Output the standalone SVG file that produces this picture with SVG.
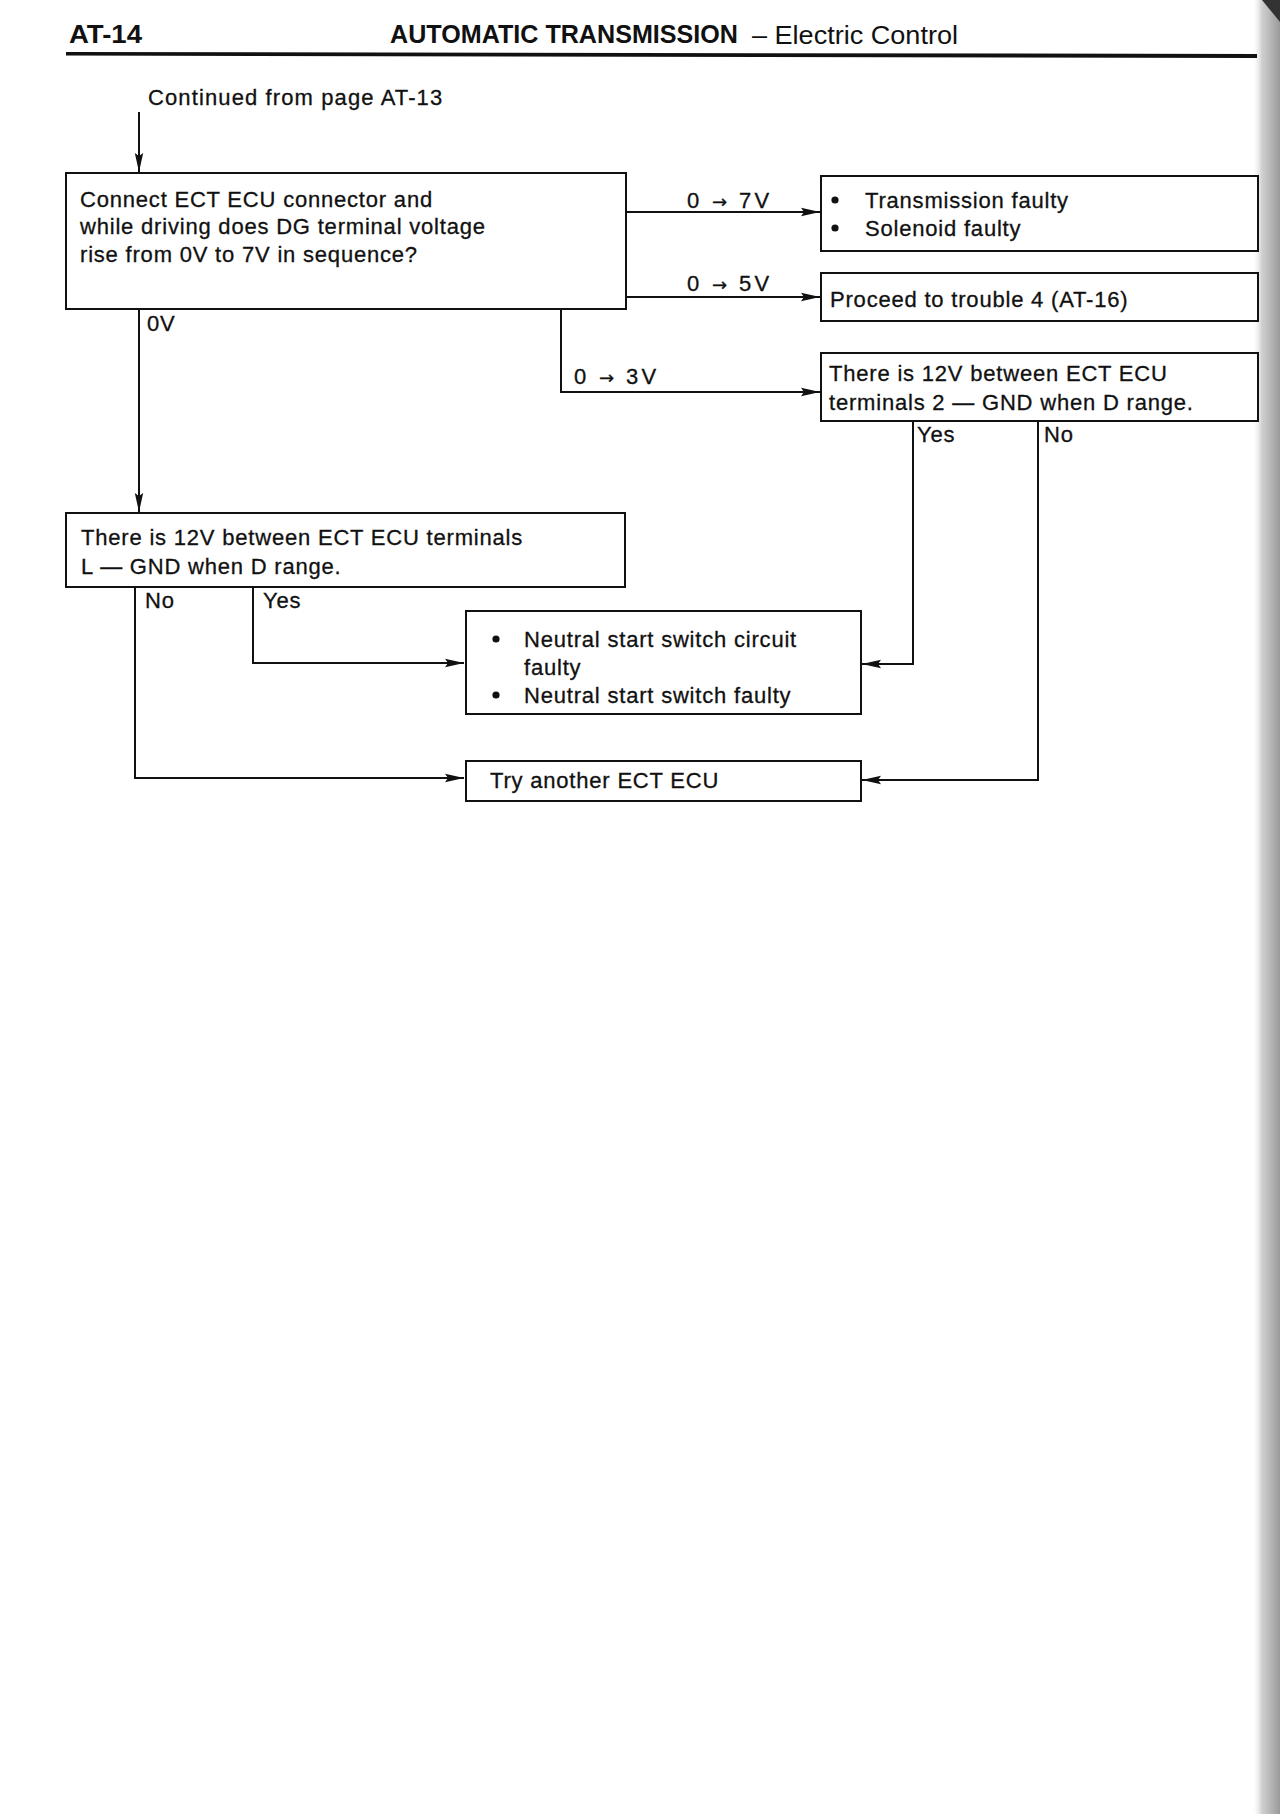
<svg xmlns="http://www.w3.org/2000/svg" width="1280" height="1814" viewBox="0 0 1280 1814">
<style>
.t{font-family:"Liberation Sans",Arial,sans-serif;font-size:22px;letter-spacing:0.8px;fill:#111;stroke:#111;stroke-width:0.3px}
.a{font-family:"DejaVu Sans",sans-serif;font-size:18px;letter-spacing:0}
.dot{fill:#111}
.h{font-family:"Liberation Sans",Arial,sans-serif;font-size:26px;fill:#111}
.hb{font-weight:bold}
.box{fill:#fff;stroke:#111;stroke-width:2}
.arr{fill:none;stroke:#111;stroke-width:2;marker-end:url(#ah)}
</style>
<defs>
<marker id="ah" markerUnits="userSpaceOnUse" markerWidth="22" markerHeight="12" refX="19" refY="5" orient="auto">
<path d="M0,0.8 L19,5 L0,9.2 L3,5 Z" fill="#111"/>
</marker>
<linearGradient id="bind" x1="0" y1="0" x2="1" y2="0">
<stop offset="0" stop-color="#ffffff" stop-opacity="0"/>
<stop offset="0.35" stop-color="#d0d0d0"/>
<stop offset="1" stop-color="#9a9a9a"/>
</linearGradient>
</defs>
<rect width="1280" height="1814" fill="#fff"/>
<rect x="1252" y="0" width="28" height="1814" fill="url(#bind)"/>
<path d="M1262,0 L1280,0 L1280,22 Z" fill="#333"/>

<g id="header">
<text class="h hb" x="69" y="43" textLength="73" lengthAdjust="spacingAndGlyphs">AT-14</text>
<text class="h hb" x="390" y="43" textLength="348" lengthAdjust="spacingAndGlyphs">AUTOMATIC TRANSMISSION</text>
<text class="h" x="752" y="44" textLength="206" lengthAdjust="spacingAndGlyphs">– Electric Control</text>
<path d="M66,52 L1257,54 L1257,58 L66,55.5 Z" fill="#111"/>
</g>

<g id="start">
<text class="t" x="148" y="105" textLength="295">Continued from page AT-13</text>
</g>

<g id="connectors">
<path class="arr" d="M139,112 V172"/>
<path class="arr" d="M626,212 H820"/>
<text class="t" x="687" y="208" textLength="83">0 <tspan class="a">→</tspan> 7V</text>
<path class="arr" d="M626,297 H820"/>
<text class="t" x="687" y="291" textLength="83">0 <tspan class="a">→</tspan> 5V</text>
<path class="arr" d="M561,309 V392 H820"/>
<text class="t" x="574" y="384" textLength="83">0 <tspan class="a">→</tspan> 3V</text>
<path class="arr" d="M139,309 V512"/>
<text class="t" x="147" y="331">0V</text>
<path class="arr" d="M913,421 V664 H862"/>
<text class="t" x="917" y="442">Yes</text>
<path class="arr" d="M1038,421 V780 H862"/>
<text class="t" x="1044" y="442">No</text>
<path class="arr" d="M253,587 V663 H464"/>
<text class="t" x="263" y="608">Yes</text>
<path class="arr" d="M135,587 V778 H464"/>
<text class="t" x="145" y="608">No</text>
</g>

<g id="q1">
<rect class="box" x="66" y="173" width="560" height="136"/>
<text class="t" x="80" y="207">Connect ECT ECU connector and</text>
<text class="t" x="80" y="234">while driving does DG terminal voltage</text>
<text class="t" x="80" y="262">rise from 0V to 7V in sequence?</text>
</g>

<g id="r1">
<rect class="box" x="821" y="176" width="437" height="75"/>
<circle class="dot" cx="835" cy="200" r="3.6"/>
<text class="t" x="865" y="208">Transmission faulty</text>
<circle class="dot" cx="835" cy="228" r="3.6"/>
<text class="t" x="865" y="236">Solenoid faulty</text>
</g>

<g id="r2">
<rect class="box" x="821" y="273" width="437" height="48"/>
<text class="t" x="830" y="307">Proceed to trouble 4 (AT-16)</text>
</g>

<g id="q2">
<rect class="box" x="821" y="353" width="437" height="68"/>
<text class="t" x="829" y="381">There is 12V between ECT ECU</text>
<text class="t" x="829" y="410">terminals 2 — GND when D range.</text>
</g>

<g id="q3">
<rect class="box" x="66" y="513" width="559" height="74"/>
<text class="t" x="81" y="545">There is 12V between ECT ECU terminals</text>
<text class="t" x="81" y="574">L — GND when D range.</text>
</g>

<g id="r3">
<rect class="box" x="466" y="611" width="395" height="103"/>
<circle class="dot" cx="496" cy="639" r="3.6"/>
<text class="t" x="524" y="647">Neutral start switch circuit</text>
<text class="t" x="524" y="675">faulty</text>
<circle class="dot" cx="496" cy="695" r="3.6"/>
<text class="t" x="524" y="703">Neutral start switch faulty</text>
</g>

<g id="r4">
<rect class="box" x="466" y="761" width="395" height="40"/>
<text class="t" x="490" y="788">Try another ECT ECU</text>
</g>
</svg>
